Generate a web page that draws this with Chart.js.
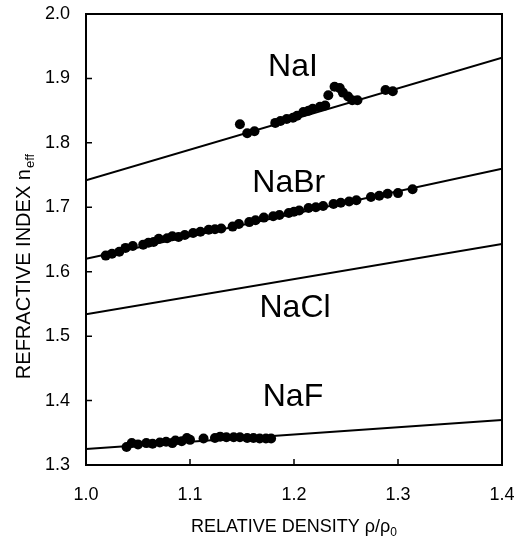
<!DOCTYPE html>
<html>
<head>
<meta charset="utf-8">
<script src="https://cdn.jsdelivr.net/npm/chart.js@4.4.1/dist/chart.umd.min.js"></script>
<style>
  html, body { margin: 0; padding: 0; background: #fff; }
  #wrap { width: 517px; height: 548px; }
</style>
</head>
<body>
<div id="wrap"><canvas id="nChart" width="517" height="548"></canvas></div>
<script>
// axis ranges / ticks
const xTicks = [1.0, 1.1, 1.2, 1.3, 1.4];
const yTicks = [1.3, 1.4, 1.5, 1.6, 1.7, 1.8, 1.9, 2.0];

// fitted lines (value at rho = 1.0 and rho = 1.4)
const lineX = [1.0, 1.4];
const naiLine = [1.742, 1.932];
const nabrLine = [1.620, 1.760];
const naclLine = [1.534, 1.643];
const nafLine = [1.325, 1.370];

// measured points
const naiX = [1.148, 1.155, 1.162, 1.182, 1.187, 1.193, 1.199, 1.203, 1.209, 1.214, 1.218, 1.225, 1.230,
              1.233, 1.239, 1.244, 1.247, 1.252, 1.256, 1.261, 1.288, 1.295];
const naiY = [1.829, 1.815, 1.818, 1.831, 1.834, 1.837, 1.839, 1.842, 1.848, 1.850, 1.853, 1.856, 1.858,
              1.874, 1.887, 1.885, 1.878, 1.872, 1.866, 1.866, 1.882, 1.880];

const nabrX = [1.019, 1.025, 1.032, 1.038, 1.045, 1.055, 1.060, 1.065, 1.070, 1.078, 1.083, 1.089, 1.095,
               1.103, 1.110, 1.118, 1.124, 1.130, 1.141, 1.147, 1.157, 1.163, 1.171, 1.180, 1.186, 1.195,
               1.200, 1.205, 1.214, 1.221, 1.228, 1.238, 1.245, 1.253, 1.260, 1.274, 1.282, 1.290, 1.300,
               1.314];
const nabrY = [1.625, 1.628, 1.631, 1.637, 1.640, 1.642, 1.645, 1.646, 1.651, 1.652, 1.655, 1.654, 1.657,
               1.660, 1.662, 1.665, 1.666, 1.667, 1.670, 1.674, 1.677, 1.680, 1.684, 1.686, 1.688, 1.691,
               1.693, 1.695, 1.699, 1.700, 1.702, 1.705, 1.707, 1.709, 1.711, 1.716, 1.718, 1.721, 1.722,
               1.728];

const nafX = [1.039, 1.044, 1.050, 1.058, 1.064, 1.071, 1.077, 1.083, 1.086, 1.092, 1.097, 1.100, 1.113,
              1.124, 1.129, 1.135, 1.142, 1.148, 1.155, 1.161, 1.167, 1.173, 1.178];
const nafY = [1.328, 1.334, 1.332, 1.334, 1.333, 1.335, 1.336, 1.334, 1.338, 1.337, 1.342, 1.339, 1.341,
              1.342, 1.344, 1.343, 1.343, 1.343, 1.342, 1.342, 1.341, 1.341, 1.341];

// compound labels placed in data coordinates
const labelNames = ['NaI', 'NaBr', 'NaCl', 'NaF'];
const labelX = [1.199, 1.195, 1.201, 1.199];
const labelY = [1.918, 1.738, 1.543, 1.405];

const FONT = '"Liberation Sans", Arial, sans-serif';

function pts(xs, ys) {
    return xs.map((x, i) => ({ x: x, y: ys[i] }));
}

function lineSet(ys) {
    return {
        type: 'line',
        data: pts(lineX, ys),
        borderColor: '#000',
        borderWidth: 2,
        pointRadius: 0,
        fill: false,
    };
}

function dotSet(xs, ys) {
    return {
        type: 'scatter',
        data: pts(xs, ys),
        backgroundColor: '#000',
        borderColor: '#000',
        pointRadius: 5,
        borderWidth: 0,
    };
}

// keep label overflow from shrinking the plot area
function noPad(scale) {
    scale.paddingTop = 0;
    scale.paddingBottom = 0;
    scale.paddingLeft = 0;
    scale.paddingRight = 0;
}

// frame, inner ticks, compound labels and axis titles with subscripts
const decorPlugin = {
    id: 'decor',
    afterDatasetsDraw(chart) {
        const ctx = chart.ctx;
        const a = chart.chartArea;
        const xs = chart.scales.x;
        const ys = chart.scales.y;
        ctx.save();
        ctx.strokeStyle = '#000';
        ctx.lineWidth = 2;
        ctx.strokeRect(a.left, a.top, a.right - a.left, a.bottom - a.top);

        ctx.lineWidth = 1.5;
        ctx.beginPath();
        xTicks.forEach((v) => {
            const px = xs.getPixelForValue(v);
            ctx.moveTo(px, a.bottom);
            ctx.lineTo(px, a.bottom - 6);
        });
        yTicks.forEach((v) => {
            const py = ys.getPixelForValue(v);
            ctx.moveTo(a.left, py);
            ctx.lineTo(a.left + 6, py);
        });
        ctx.stroke();

        ctx.fillStyle = '#000';
        ctx.font = '32px ' + FONT;
        ctx.textAlign = 'center';
        ctx.textBaseline = 'middle';
        labelNames.forEach((name, i) => {
            ctx.fillText(name, xs.getPixelForValue(labelX[i]), ys.getPixelForValue(labelY[i]));
        });

        // x title: RELATIVE DENSITY rho/rho0
        ctx.textAlign = 'left';
        ctx.textBaseline = 'alphabetic';
        const xMain = 'RELATIVE DENSITY \u03C1/\u03C1';
        ctx.font = '18px ' + FONT;
        const wMain = ctx.measureText(xMain).width;
        ctx.font = '12px ' + FONT;
        const wSub = ctx.measureText('0').width;
        const xStart = (a.left + a.right) / 2 - (wMain + wSub) / 2;
        ctx.font = '18px ' + FONT;
        ctx.fillText(xMain, xStart, 532);
        ctx.font = '12px ' + FONT;
        ctx.fillText('0', xStart + wMain, 536);

        // y title: REFRACTIVE INDEX n_eff
        ctx.save();
        ctx.translate(30, 267);
        ctx.rotate(-Math.PI / 2);
        const yMain = 'REFRACTIVE INDEX n';
        ctx.font = '20px ' + FONT;
        const wy = ctx.measureText(yMain).width;
        ctx.font = '13px ' + FONT;
        const wys = ctx.measureText('eff').width;
        const yStart = -(wy + wys) / 2;
        ctx.font = '20px ' + FONT;
        ctx.fillText(yMain, yStart, 0);
        ctx.font = '13px ' + FONT;
        ctx.fillText('eff', yStart + wy + 1, 4);
        ctx.restore();

        ctx.restore();
    },
};

const ctx = document.getElementById('nChart').getContext('2d');
new Chart(ctx, {
    type: 'scatter',
    data: {
        datasets: [
            lineSet(naiLine),
            lineSet(nabrLine),
            lineSet(naclLine),
            lineSet(nafLine),
            dotSet(naiX, naiY),
            dotSet(nabrX, nabrY),
            dotSet(nafX, nafY),
        ],
    },
    options: {
        responsive: false,
        animation: false,
        layout: { padding: { left: 0, right: 15, top: 14, bottom: 0 } },
        plugins: {
            legend: { display: false },
            tooltip: { enabled: false },
        },
        scales: {
            x: {
                type: 'linear',
                min: 1.0,
                max: 1.4,
                border: { display: false },
                grid: { display: false, drawTicks: false },
                ticks: {
                    stepSize: 0.1,
                    padding: 19,
                    color: '#000',
                    font: { family: FONT, size: 18 },
                    callback: (v) => v.toFixed(1),
                },
                afterFit: (scale) => { scale.height = 548 - 465; noPad(scale); },
            },
            y: {
                type: 'linear',
                min: 1.3,
                max: 2.0,
                border: { display: false },
                grid: { display: false, drawTicks: false },
                ticks: {
                    stepSize: 0.1,
                    padding: 16,
                    color: '#000',
                    font: { family: FONT, size: 18 },
                    callback: (v) => v.toFixed(1),
                },
                afterFit: (scale) => { scale.width = 86; noPad(scale); },
            },
        },
    },
    plugins: [decorPlugin],
});
</script>
</body>
</html>
